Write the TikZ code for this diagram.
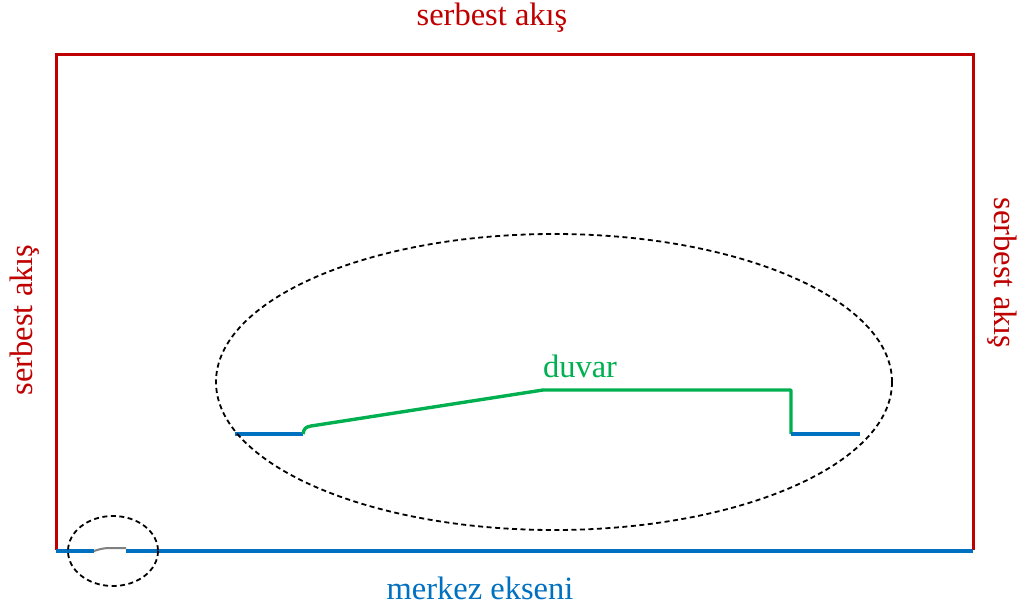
\documentclass[tikz,border=0pt]{standalone}
\usepackage{fontspec}
\setmainfont{Liberation Serif}
\usetikzlibrary{positioning}
\definecolor{akisred}{RGB}{192,0,0}
\definecolor{eksenblue}{RGB}{0,112,192}
\definecolor{duvargreen}{RGB}{0,176,80}

\begin{document}
\begin{tikzpicture}[
    x=1pt, y=-1pt,
    every node/.style={font=\fontsize{32.5}{36}\selectfont, inner sep=0pt},
    boundary/.style={draw=akisred, line width=3pt},
    axis/.style={draw=eksenblue, line width=3.4pt},
    wall/.style={draw=duvargreen, line width=3.4pt},
    zoomring/.style={draw=black, line width=1.8pt, dash pattern=on 5pt off 3.5pt}
  ]
  \useasboundingbox (0,0) rectangle (1023,608);

  % free-stream boundary
  \draw[boundary] (56,550) -- (56,54) -- (973,54) -- (973,550);

  % axis of symmetry
  \draw[axis] (56,551) -- (94,551);
  \draw[axis] (126,551) -- (973,551);
  \draw[gray, line width=2pt] (94,551) .. controls (100,549) and (104,548) .. (110,548) -- (126,548);

  % wall of the body
  \draw[axis] (235,434) -- (303,434);
  \draw[wall, line join=round] (303,434) .. controls (304,428) and (306,427) .. (311,426)
    -- (543,390) -- (791,390) -- (791,434);
  \draw[axis] (791,434) -- (860,434);

  % detail rings
  \draw[zoomring] (554,382) ellipse [x radius=338, y radius=148];
  \draw[zoomring] (113,551) ellipse [x radius=45, y radius=35];

  % labels
  \node[text=akisred] (top) at (492,18) {serbest akış};
  \node[text=akisred, rotate=90] (left) at (25,320) {serbest akış};
  \node[text=akisred, rotate=-90] (right) at (1002,273) {serbest akış};
  \node[text=eksenblue] (axislabel) at (480,588) {merkez ekseni};
  \node[text=duvargreen] (walllabel) at (580,366) {duvar};
\end{tikzpicture}
\end{document}
